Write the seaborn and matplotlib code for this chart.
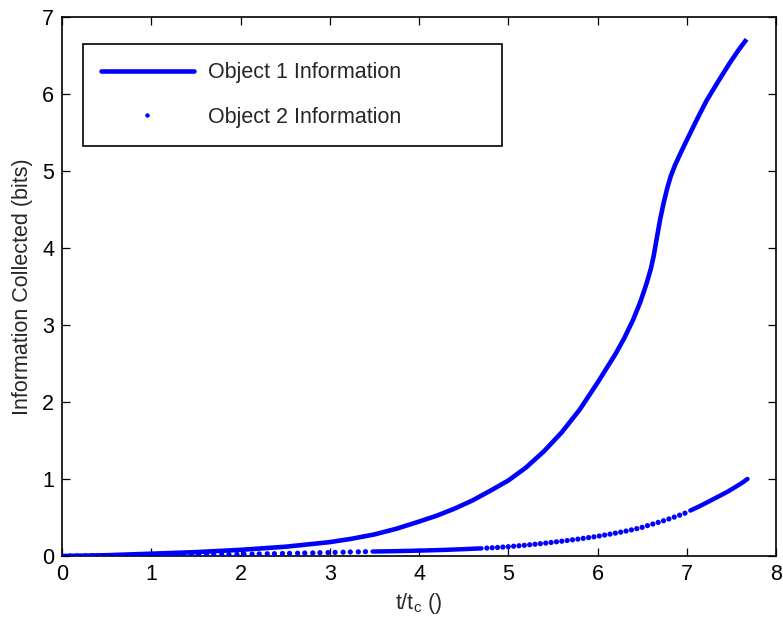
import numpy as np
import pandas as pd
import matplotlib
matplotlib.use("Agg")
import matplotlib.pyplot as plt
from matplotlib.lines import Line2D
import seaborn as sns

# ---- data ----
obj1_t = [0.00, 0.50, 1.00, 1.50, 2.00, 2.25, 2.50, 2.75, 3.00, 3.25, 3.50, 3.75, 4.00,
          4.20, 4.40, 4.60, 4.80, 5.00, 5.20, 5.40, 5.60, 5.80, 6.00, 6.20, 6.30, 6.40,
          6.48, 6.55, 6.60, 6.63, 6.66, 6.70, 6.74, 6.78, 6.82, 6.87, 6.93, 7.00, 7.11,
          7.22, 7.34, 7.48, 7.58, 7.67]
obj1_info = [0.000, 0.010, 0.030, 0.050, 0.080, 0.100, 0.120, 0.150, 0.180, 0.225, 0.280,
             0.355, 0.447, 0.524, 0.616, 0.722, 0.848, 0.980, 1.150, 1.360, 1.607, 1.900,
             2.250, 2.620, 2.830, 3.070, 3.300, 3.540, 3.740, 3.900, 4.100, 4.360, 4.580,
             4.770, 4.930, 5.080, 5.230, 5.400, 5.660, 5.910, 6.140, 6.400, 6.570, 6.710]

# Object 2: sparse sampled dots (early)
obj2_t_a = [0.00, 0.09, 0.17, 0.26, 0.34, 0.43, 0.51, 0.60, 0.68, 0.77, 0.85, 0.94, 1.02,
            1.11, 1.19, 1.28, 1.36, 1.45, 1.53, 1.62, 1.70, 1.79, 1.87, 1.96, 2.04, 2.13,
            2.21, 2.30, 2.38, 2.47, 2.55, 2.64, 2.72, 2.81, 2.89, 2.98, 3.06, 3.15, 3.23,
            3.32, 3.40]
obj2_info_a = [0.000, 0.000, 0.001, 0.001, 0.002, 0.002, 0.003, 0.004, 0.004, 0.005, 0.006,
               0.007, 0.008, 0.009, 0.010, 0.011, 0.012, 0.014, 0.015, 0.016, 0.017, 0.019,
               0.020, 0.022, 0.024, 0.025, 0.027, 0.029, 0.030, 0.032, 0.034, 0.036, 0.038,
               0.040, 0.043, 0.045, 0.047, 0.049, 0.052, 0.054, 0.056]
# Object 2: densely sampled stretch
obj2_t_b = [3.48, 3.70, 3.90, 4.10, 4.30, 4.50, 4.70]
obj2_info_b = [0.058, 0.062, 0.067, 0.073, 0.080, 0.089, 0.099]
# Object 2: sparse sampled dots (middle)
obj2_t_c = [4.76, 4.82, 4.88, 4.94, 5.00, 5.06, 5.12, 5.18, 5.24, 5.30, 5.36, 5.42, 5.48,
            5.54, 5.60, 5.66, 5.72, 5.78, 5.84, 5.90, 5.96, 6.02, 6.08, 6.14, 6.20, 6.26,
            6.32, 6.38, 6.44, 6.50, 6.56, 6.62, 6.68, 6.74, 6.80, 6.86, 6.92, 6.98]
obj2_info_c = [0.103, 0.107, 0.111, 0.116, 0.121, 0.127, 0.133, 0.139, 0.146, 0.153, 0.160,
               0.168, 0.176, 0.184, 0.192, 0.201, 0.210, 0.219, 0.229, 0.239, 0.249, 0.260,
               0.272, 0.284, 0.297, 0.310, 0.324, 0.339, 0.355, 0.372, 0.395, 0.415, 0.436,
               0.458, 0.481, 0.505, 0.530, 0.556]
# Object 2: densely sampled stretch (end)
obj2_t_d = [7.04, 7.15, 7.25, 7.35, 7.45, 7.55, 7.62, 7.68]
obj2_info_d = [0.590, 0.650, 0.710, 0.770, 0.830, 0.900, 0.950, 1.000]

xticks = [0, 1, 2, 3, 4, 5, 6, 7, 8]
yticks = [0, 1, 2, 3, 4, 5, 6, 7]
labels = ["Object 1 Information", "Object 2 Information"]

# ---- style ----
sns.set_theme(style="ticks")
plt.rcParams["font.family"] = ["Liberation Sans", "DejaVu Sans"]
plt.rcParams["mathtext.fontset"] = "custom"
plt.rcParams["mathtext.rm"] = "Liberation Sans"
plt.rcParams["mathtext.it"] = "Liberation Sans"

FS = 15.5
fig = plt.figure(figsize=(7.83, 6.23), dpi=100)
ax = fig.add_axes([62 / 783, 1 - 556 / 623, 714 / 783, 539 / 623])

blue = "#0000ff"

df1 = pd.DataFrame({"t": obj1_t, "info": obj1_info})
sns.lineplot(data=df1, x="t", y="info", ax=ax, color=blue, linewidth=3.3,
             solid_capstyle="butt", solid_joinstyle="round", legend=False)

for tt, yy in [(obj2_t_b, obj2_info_b), (obj2_t_d, obj2_info_d)]:
    d = pd.DataFrame({"t": tt, "info": yy})
    sns.lineplot(data=d, x="t", y="info", ax=ax, color=blue, linewidth=3.2,
                 solid_capstyle="round", legend=False)

for tt, yy in [(obj2_t_a, obj2_info_a), (obj2_t_c, obj2_info_c)]:
    d = pd.DataFrame({"t": tt, "info": yy})
    sns.scatterplot(data=d, x="t", y="info", ax=ax, color=blue, s=14,
                    edgecolor="none", linewidth=0, legend=False, zorder=3)

ax.set_xlim(0, 8)
ax.set_ylim(0, 7)
ax.set_xticks(xticks)
ax.set_yticks(yticks)
ax.set_xticklabels([str(v) for v in xticks])
ax.set_yticklabels([str(v) for v in yticks])

for sp in ax.spines.values():
    sp.set_visible(True)
    sp.set_color("black")
    sp.set_linewidth(1.2)
ax.tick_params(direction="in", length=5.5, width=0.9, colors="black",
               top=True, right=True, labelsize=FS)
ax.tick_params(axis="x", pad=6)
ax.tick_params(axis="y", pad=5.5)

ax.set_xlabel("t/t$_\\mathregular{c}$ ()", fontsize=FS, labelpad=4)
ax.set_ylabel("Information Collected (bits)", fontsize=FS, labelpad=6.5)

handles = [Line2D([], [], color=blue, linewidth=3.3),
           Line2D([], [], color=blue, linestyle="none", marker="o", markersize=3.2,
                  markeredgewidth=0)]
leg = ax.legend(handles, labels, loc="upper left",
                bbox_to_anchor=(0.029, 0.768, 0.587, 0.182), mode="expand",
                fontsize=FS, frameon=True, fancybox=False, framealpha=1,
                edgecolor="black", handlelength=4.3, handletextpad=0.65,
                labelspacing=1.1, borderpad=0.85, borderaxespad=0)
leg.get_frame().set_linewidth(1.2)

fig.savefig("out.png", dpi=100, facecolor="white")
